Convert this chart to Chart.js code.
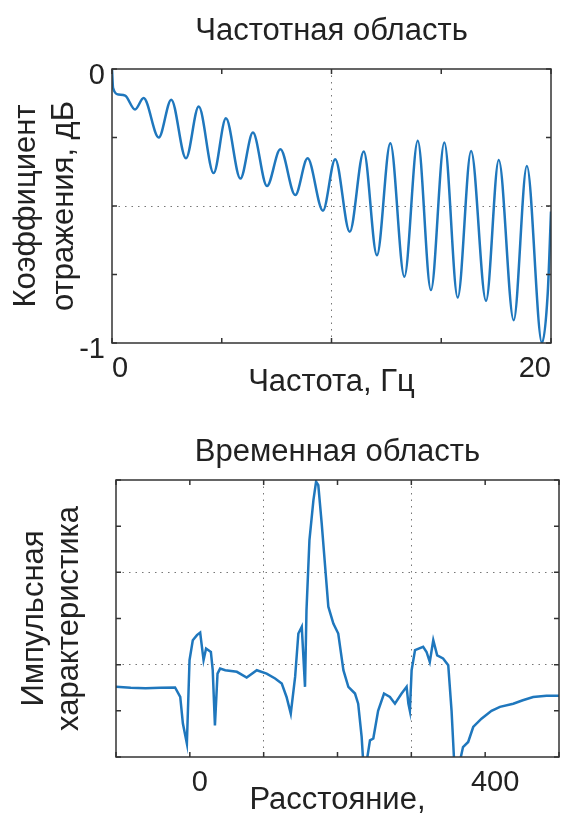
<!DOCTYPE html>
<html>
<head>
<meta charset="utf-8">
<script src="https://cdn.jsdelivr.net/npm/chart.js@4"></script>
<style>
  html, body { margin: 0; background: #fff; overflow: hidden; }
  .box { position: absolute; left: 0; width: 562px; }
</style>
</head>
<body>
<div class="box" style="top:0;height:406px"><canvas id="freqChart"></canvas></div>
<div class="box" style="top:406px;height:413px"><canvas id="timeChart"></canvas></div>
<script>
// частотная область: частота (Гц) и коэффициент отражения
const freqX = [0, 0.05, 0.3, 0.6, 1.05, 1.44, 2.13, 2.7, 3.37, 3.95, 4.63, 5.19, 5.85, 6.42, 7.06, 7.67, 8.35, 8.91,
               9.61, 10.17, 10.83, 11.47, 12.07, 12.68, 13.32, 13.93, 14.53, 15.14, 15.75, 16.36, 17.04, 17.62,
               18.3, 18.9, 19.59, 19.85, 20];
const freqY = [0, -0.07, -0.093, -0.097, -0.148, -0.106, -0.25, -0.112, -0.326, -0.137, -0.38, -0.18, -0.40, -0.232,
               -0.427, -0.293, -0.46, -0.326, -0.517, -0.329, -0.594, -0.301, -0.68, -0.271, -0.758, -0.262,
               -0.807, -0.268, -0.834, -0.299, -0.846, -0.332, -0.917, -0.354, -1.0, -0.82, -0.52];

// временная область: расстояние и импульсная характеристика
const distX = [-100, -80, -60, -40, -20, -13, -9.4, -4, -0.4, 4, 9.6, 14, 18.6, 22, 28.5, 31, 34, 37.5, 41, 48, 63.7,
               77, 90.7, 104, 115.5, 124.5, 131, 136.7, 142.6, 147, 151.6, 153.8, 156, 158, 162, 167.4, 171, 174,
               178.6, 187.6, 194.4, 201, 208, 214.7, 223.7, 228, 232.7, 235, 239.5, 244, 248.5, 255, 263, 271,
               277.8, 286.8, 293.6, 296, 298, 300.4, 305, 316, 320.6, 325, 329.7, 335, 343, 350, 354.5, 358,
               365.7, 370, 377, 383.8, 395, 408.6, 420, 438, 451, 465, 483, 500];
const distY = [0.104, 0.1, 0.098, 0.1, 0.101, 0.06, -0.055, -0.142, 0.22, 0.306, 0.328, 0.339, 0.22, 0.27, 0.255,
               0.176, -0.063, 0.161, 0.183, 0.176, 0.169, 0.144, 0.176, 0.161, 0.14, 0.118, 0.06, -0.012, 0.147,
               0.335, 0.364, 0.234, 0.104, 0.436, 0.74, 0.913, 0.993, 0.978, 0.812, 0.451, 0.378, 0.335, 0.176,
               0.104, 0.075, 0.031, -0.113, -0.23, -0.22, -0.128, -0.12, 0.0, 0.075, 0.06, 0.031, 0.075, 0.104,
               0.031, 0.0, 0.176, 0.263, 0.277, 0.255, 0.212, 0.306, 0.24, 0.227, 0.198, 0.0, -0.22, -0.22, -0.157,
               -0.135, -0.07, -0.034, 0.0, 0.017, 0.031, 0.046, 0.06, 0.065, 0.065];

const freqTicks = ['0', '20'];
const freqYTicks = ['0', '-1'];
const distTicks = ['0', '400'];

const lineColor = '#1f77bd';
const font = "'Liberation Sans', Arial, sans-serif";
const textColor = '#222';

// рамка и внутренние засечки как в MATLAB
const frame = {
    id: 'frame',
    afterDatasetsDraw(chart) {
        const { ctx, chartArea: a, scales: { x, y } } = chart;
        ctx.save();
        ctx.strokeStyle = '#333';
        ctx.lineWidth = 1.5;
        ctx.strokeRect(a.left, a.top, a.width, a.height);
        ctx.beginPath();
        x.ticks.forEach(t => {
            const px = x.getPixelForValue(t.value);
            ctx.moveTo(px, a.bottom); ctx.lineTo(px, a.bottom - 5);
            ctx.moveTo(px, a.top); ctx.lineTo(px, a.top + 5);
        });
        y.ticks.forEach(t => {
            const py = y.getPixelForValue(t.value);
            ctx.moveTo(a.left, py); ctx.lineTo(a.left + 5, py);
            ctx.moveTo(a.right, py); ctx.lineTo(a.right - 5, py);
        });
        ctx.stroke();
        ctx.restore();
    }
};

function makeChart(id, xs, ys, opts) {
    const pts = xs.map((v, i) => ({ x: v, y: ys[i] }));
    return new Chart(document.getElementById(id), {
        type: 'line',
        data: {
            datasets: [{
                data: pts,
                borderColor: lineColor,
                borderWidth: 2.5,
                pointRadius: 0,
                cubicInterpolationMode: opts.smooth ? 'monotone' : 'default',
                tension: 0,
                fill: false
            }]
        },
        options: {
            responsive: true,
            maintainAspectRatio: false,
            animation: false,
            layout: { padding: opts.padding },
            plugins: {
                legend: { display: false },
                tooltip: { enabled: false },
                title: {
                    display: true,
                    fullSize: false,
                    text: opts.title,
                    color: textColor,
                    font: { family: font, size: 31, weight: 'normal', lineHeight: 1.2 },
                    padding: opts.titlePad
                }
            },
            scales: {
                x: {
                    type: 'linear',
                    min: opts.xMin, max: opts.xMax,
                    afterFit: s => {
                        s.height = opts.xH;
                        s.paddingLeft = 0;
                        s.paddingRight = 0;
                    },
                    ticks: {
                        stepSize: opts.xStep,
                        autoSkip: false,
                        maxRotation: 0,
                        align: opts.xAlign,
                        color: textColor,
                        padding: 8.5,
                        labelOffset: opts.xLabelOffset,
                        font: { family: font, size: 29 },
                        callback: v => opts.xLabels.includes(String(v)) ? String(v) : ''
                    },
                    grid: {
                        drawTicks: false,
                        lineWidth: 1,
                        color: c => opts.xGrid.includes(c.tick && c.tick.value) ? '#777' : 'rgba(0,0,0,0)'
                    },
                    border: { display: false, dash: [1.5, 5] },
                    title: {
                        display: true,
                        text: opts.xTitle,
                        color: textColor,
                        padding: 0,
                        font: { family: font, size: 31, lineHeight: 1.2 }
                    }
                },
                y: {
                    min: opts.yMin, max: opts.yMax,
                    afterFit: s => {
                        s.width = opts.yW;
                        s.paddingTop = 0;
                        s.paddingBottom = 0;
                    },
                    ticks: {
                        stepSize: opts.yStep,
                        autoSkip: false,
                        color: textColor,
                        padding: 7,
                        labelOffset: 7,
                        font: { family: font, size: 29 },
                        callback: v => opts.yLabels.includes(String(v)) ? String(v) : ''
                    },
                    grid: {
                        drawTicks: false,
                        lineWidth: 1,
                        color: c => opts.yGrid.some(g => Math.abs(g - (c.tick ? c.tick.value : 99)) < 1e-6) ? '#777' : 'rgba(0,0,0,0)'
                    },
                    border: { display: false, dash: [1.5, 5] },
                    title: {
                        display: true,
                        text: opts.yTitle,
                        color: textColor,
                        padding: 0,
                        font: { family: font, size: 31, lineHeight: opts.yLH }
                    }
                }
            }
        },
        plugins: [frame]
    });
}

makeChart('freqChart', freqX, freqY, {
    smooth: true,
    title: 'Частотная область',
    titlePad: { top: 13, bottom: 18.8 },
    padding: { left: 8, right: 11, top: 0, bottom: 5 },
    xMin: 0, xMax: 20, xStep: 5, xLabels: freqTicks, xGrid: [10], xH: 58,
    xAlign: 'inner', xLabelOffset: 0,
    yMin: -1, yMax: 0, yStep: 0.25, yLabels: freqYTicks, yGrid: [-0.5], yW: 104, yLH: 1.22,
    xTitle: 'Частота, Гц',
    yTitle: ['Коэффициент', 'отражения, дБ']
});

makeChart('timeChart', distX, distY, {
    smooth: false,
    title: 'Временная область',
    titlePad: { top: 27.4, bottom: 9.4 },
    padding: { left: 17, right: 3, top: 0, bottom: 0 },
    xMin: -100, xMax: 500, xStep: 100, xLabels: distTicks, xGrid: [100, 300], xH: 62,
    xAlign: 'center', xLabelOffset: 10,
    yMin: -0.2, yMax: 1, yStep: 0.2, yLabels: [], yGrid: [0.6, 0.2], yW: 99, yLH: 1.13,
    xTitle: 'Расстояние,',
    yTitle: ['Импульсная', 'характеристика']
});
</script>
</body>
</html>
